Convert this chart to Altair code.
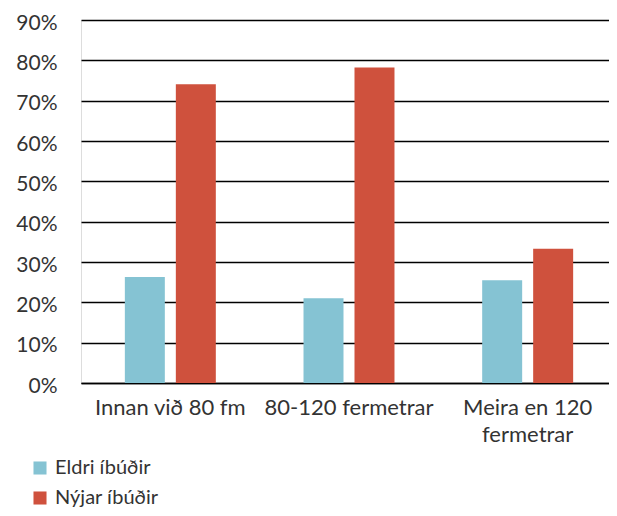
import altair as alt
import pandas as pd

categories = ["Innan við 80 fm", "80-120 fermetrar", "Meira en 120 fermetrar"]
series = ["Eldri íbúðir", "Nýjar íbúðir"]
eldri = [0.263, 0.210, 0.255]
nyjar = [0.741, 0.782, 0.333]
colors = ["#85C3D3", "#CF513D"]
y_ticks = [0, 0.1, 0.2, 0.3, 0.4, 0.5, 0.6, 0.7, 0.8, 0.9]

rows = []
for c, a, b in zip(categories, eldri, nyjar):
    rows.append({"cat": c, "series": series[0], "value": a})
    rows.append({"cat": c, "series": series[1], "value": b})
df = pd.DataFrame(rows)

FONT = "Lato"

chart = alt.Chart(df).mark_bar().encode(
    x=alt.X("cat:N", sort=categories, title=None,
            scale=alt.Scale(paddingInner=0, paddingOuter=0, range=[0, 536]),
            axis=alt.Axis(labelAngle=0, labelFontSize=22, labelColor="#333333",
                          labelFont=FONT, labelPadding=14, ticks=False,
                          domainColor="#000000", domainWidth=1.5,
                          labelLineHeight=27,
                          labelExpr="datum.label == 'Meira en 120 fermetrar' ? ['Meira en 120', 'fermetrar'] : datum.label")),
    xOffset=alt.XOffset("series:N", sort=series,
                        scale=alt.Scale(paddingInner=0.2157, paddingOuter=0.86)),
    y=alt.Y("value:Q", title=None,
            scale=alt.Scale(domain=[0, 0.9], nice=False),
            axis=alt.Axis(values=y_ticks, format=".0%", labelFontSize=21,
                          labelColor="#333333", labelFont=FONT, labelPadding=24,
                          labelOffset=3, labelFlush=False,
                          ticks=False, domain=False, grid=True,
                          gridColor="#000000", gridWidth=1.5)),
    color=alt.Color("series:N", sort=series,
                    scale=alt.Scale(domain=series, range=colors),
                    legend=alt.Legend(title=None, orient="none", legendX=-51, legendY=438,
                                      symbolType="square", symbolSize=170,
                                      symbolStrokeWidth=0,
                                      labelFontSize=20, labelFont=FONT,
                                      labelColor="#333333", rowPadding=10,
                                      labelOffset=5, direction="vertical")),
).properties(
    width=528, height=363,
    padding={"left": 73, "top": 12, "right": 0, "bottom": 125},
    autosize=alt.AutoSizeParams(type="none"),
).configure_view(stroke=None).configure(font=FONT)

chart.save("out.html", embed_options={"renderer": "svg", "actions": False})
